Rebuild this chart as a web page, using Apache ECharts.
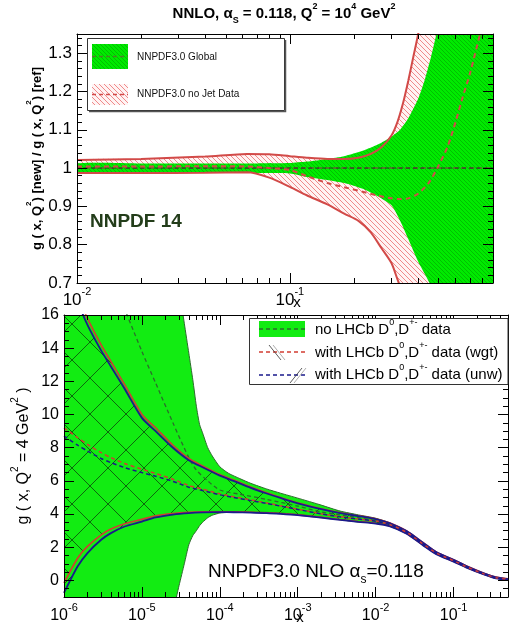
<!DOCTYPE html>
<html>
<head>
<meta charset="utf-8">
<script src="https://cdn.jsdelivr.net/npm/echarts@6/dist/echarts.min.js"></script>
<style>
  html, body { margin: 0; padding: 0; background: #fff; }
  #chart { width: 513px; height: 623px; }
</style>
</head>
<body>
<div id="chart"></div>
<script>
// ---------------- upper panel: g(x,Q^2) ratio to NNPDF3.0 global, NNLO, Q^2 = 1e4 GeV^2
const ratioXLabels = [0.01, 0.1];
const ratioYLabels = [0.7, 0.8, 0.9, 1, 1.1, 1.2, 1.3];

const globalX     = [0.01, 0.02, 0.04, 0.07, 0.1, 0.12, 0.15, 0.18, 0.22, 0.26, 0.3, 0.33, 0.36, 0.4, 0.43, 0.46, 0.49, 0.55, 0.7, 0.9];
const globalUpper = [1.012, 1.012, 1.012, 1.012, 1.013, 1.017, 1.024, 1.031, 1.045, 1.062, 1.082, 1.101, 1.13, 1.18, 1.23, 1.29, 1.355, 1.5, 1.8, 2.2];
const globalLower = [0.988, 0.988, 0.988, 0.987, 0.986, 0.977, 0.969, 0.961, 0.946, 0.926, 0.903, 0.862, 0.815, 0.757, 0.724, 0.693, 0.665, 0.6, 0.45, 0.3];
const globalCentralX = [0.01, 0.9];
const globalCentral  = [1, 1];

const noJetX     = [0.01, 0.02, 0.04, 0.063, 0.08, 0.1, 0.12, 0.15, 0.18, 0.21, 0.24, 0.27, 0.3, 0.32, 0.34, 0.36, 0.38, 0.4, 0.45, 0.6, 0.9];
const noJetUpper = [1.021, 1.024, 1.03, 1.037, 1.036, 1.031, 1.027, 1.024, 1.024, 1.027, 1.037, 1.055, 1.085, 1.12, 1.169, 1.228, 1.29, 1.348, 1.5, 1.9, 2.5];
const noJetLower = [0.987, 0.987, 0.988, 0.989, 0.975, 0.951, 0.929, 0.905, 0.881, 0.862, 0.832, 0.79, 0.752, 0.71, 0.67, 0.63, 0.6, 0.57, 0.5, 0.35, 0.2];
const noJetCentralX = [0.01, 0.02, 0.04, 0.063, 0.08, 0.1, 0.12, 0.15, 0.18, 0.22, 0.26, 0.3, 0.33, 0.36, 0.4, 0.45, 0.5, 0.55, 0.6, 0.65, 0.7, 0.78];
const noJetCentral  = [1.004, 1.004, 1.005, 1.004, 1.0, 0.995, 0.979, 0.961, 0.95, 0.938, 0.928, 0.921, 0.919, 0.921, 0.933, 0.962, 1.007, 1.055, 1.12, 1.187, 1.245, 1.347];

// ---------------- lower panel: gluon at Q^2 = 4 GeV^2, NNPDF3.0 NLO
const gluonXLabels = [1e-6, 1e-5, 1e-4, 1e-3, 1e-2, 1e-1];
const gluonYLabels = [0, 2, 4, 6, 8, 10, 12, 14, 16];

const noLhcbX     = [1e-6, 5e-6, 1.5e-5, 2.5e-5, 3e-5, 3.5e-5, 4e-5, 4.5e-5, 5e-5, 5.5e-5, 6e-5, 7e-5, 8e-5, 1e-4, 1.3e-4, 1.8e-4, 2.5e-4, 4e-4, 6e-4, 1e-3, 2e-3, 3.5e-3, 6e-3, 1e-2, 0.015, 0.025, 0.04, 0.06, 0.1, 0.15, 0.25, 0.35, 0.5];
const noLhcbUpper = [45, 35, 26, 20, 17.6, 15.5, 13.7, 12.1, 10.5, 9.4, 8.9, 8.0, 7.5, 6.85, 6.45, 6.14, 5.85, 5.51, 5.26, 4.96, 4.54, 4.18, 3.95, 3.75, 3.48, 2.98, 2.29, 1.71, 1.24, 0.84, 0.41, 0.19, 0.09];
const noLhcbLower = [-12, -8, -4, -1.8, -0.3, 1.0, 2.15, 2.7, 3.0, 3.3, 3.5, 3.78, 3.93, 4.06, 4.1, 4.12, 4.12, 4.1, 4.06, 3.98, 3.82, 3.66, 3.52, 3.45, 3.28, 2.82, 2.15, 1.59, 1.14, 0.76, 0.35, 0.13, 0.05];
const noLhcbCentralX = [5e-6, 1e-5, 1.5e-5, 2.5e-5, 4e-5, 5e-5, 7e-5, 1e-4, 1.8e-4, 4e-4, 1e-3, 2e-3, 3.5e-3, 6e-3, 1e-2, 0.015, 0.025, 0.04, 0.06, 0.1, 0.15, 0.25, 0.35, 0.5];
const noLhcbCentral  = [17.3, 13.8, 11.9, 9.5, 7.4, 6.65, 6.0, 5.45, 5.2, 4.88, 4.48, 4.13, 3.95, 3.78, 3.6, 3.38, 2.9, 2.22, 1.65, 1.19, 0.8, 0.38, 0.16, 0.07];

const lhcbX      = [1e-6, 1.5e-6, 2e-6, 3e-6, 4e-6, 6e-6, 1e-5, 1.5e-5, 2.5e-5, 4e-5, 6e-5, 1e-4, 1.5e-4, 2.5e-4, 4e-4, 6e-4, 1e-3, 2e-3, 3.5e-3, 6e-3, 1e-2, 0.015, 0.025, 0.04, 0.06, 0.1, 0.15, 0.25, 0.35, 0.5];
const wgtUpper   = [19.5, 17.2, 15.8, 14.2, 13.2, 11.8, 10.0, 9.2, 8.15, 7.35, 6.9, 6.38, 6.05, 5.63, 5.28, 5.0, 4.68, 4.32, 4.08, 3.9, 3.72, 3.47, 2.98, 2.3, 1.72, 1.25, 0.85, 0.42, 0.2, 0.09];
const wgtCentral = [9.2, 8.6, 8.2, 7.7, 7.4, 7.05, 6.7, 6.45, 6.1, 5.72, 5.5, 5.22, 5.05, 4.85, 4.67, 4.5, 4.3, 4.02, 3.84, 3.7, 3.58, 3.38, 2.9, 2.22, 1.65, 1.19, 0.8, 0.38, 0.16, 0.07];
const wgtLower   = [-0.15, 1.35, 2.05, 2.75, 3.1, 3.42, 3.68, 3.9, 4.03, 4.1, 4.13, 4.14, 4.13, 4.11, 4.08, 4.03, 3.95, 3.8, 3.67, 3.55, 3.45, 3.29, 2.83, 2.16, 1.6, 1.15, 0.77, 0.36, 0.14, 0.05];
const unwUpper   = [19.0, 16.8, 15.4, 13.85, 12.9, 11.55, 9.8, 9.0, 8.0, 7.25, 6.82, 6.32, 6.0, 5.58, 5.24, 4.97, 4.65, 4.3, 4.06, 3.88, 3.7, 3.46, 2.97, 2.29, 1.71, 1.24, 0.84, 0.41, 0.19, 0.08];
const unwCentral = [8.7, 8.15, 7.8, 7.35, 7.1, 6.8, 6.5, 6.28, 5.97, 5.62, 5.42, 5.16, 5.0, 4.81, 4.64, 4.48, 4.28, 4.01, 3.83, 3.7, 3.57, 3.37, 2.89, 2.21, 1.64, 1.18, 0.79, 0.37, 0.15, 0.06];
const unwLower   = [-0.75, 0.85, 1.65, 2.45, 2.85, 3.25, 3.55, 3.8, 3.97, 4.06, 4.1, 4.12, 4.11, 4.09, 4.06, 4.01, 3.93, 3.78, 3.65, 3.53, 3.43, 3.27, 2.81, 2.14, 1.58, 1.13, 0.75, 0.34, 0.12, 0.04];

// ---------------- minor tick positions
function logMinors(lo, hi, maxV) {
  const out = [];
  for (let d = lo; d <= hi; d++) for (let k = 2; k <= 9; k++) {
    const v = +(k * Math.pow(10, d)).toPrecision(6);
    if (v <= maxV) out.push(v);
  }
  return out;
}
const ratioXMinor = logMinors(-2, -1, 0.9);
const gluonXMinor = logMinors(-6, -1, 0.5);
const ratioYMinor = [];
for (let i = 35; i <= 67; i++) if (i % 5) ratioYMinor.push(i / 50);
const gluonYMinor = [];
for (let i = -2; i <= 32; i++) if (i % 4) gluonYMinor.push(i / 2);

// ---------------- styling helpers
const FONT = 'Liberation Sans, Arial, Helvetica, sans-serif';
const AXIS_Z = 20;

function hatch(size, bg, fg, lw, dir) {
  const c = document.createElement('canvas');
  c.width = c.height = size;
  const g = c.getContext('2d');
  if (bg) { g.fillStyle = bg; g.fillRect(0, 0, size, size); }
  g.strokeStyle = fg; g.lineWidth = lw;
  g.beginPath();
  for (const k of [-size, 0, size]) {
    if (dir === '\\') { g.moveTo(k, 0); g.lineTo(k + size, size); }
    else { g.moveTo(k, size); g.lineTo(k + size, 0); }
  }
  g.stroke();
  return { image: c, repeat: 'repeat' };
}
const globalFill = hatch(4, '#00ea00', '#00c000', 1, '\\');
const noJetFill  = hatch(5, '#fff3f3', '#ef8a8a', 1, '\\');
const noLhcbFill = '#12ec12';
const wgtHatch   = hatch(36, null, 'rgba(10,40,10,0.85)', 0.8, '\\');
const unwHatch   = hatch(36, null, 'rgba(10,40,10,0.85)', 0.8, '/');

const RED = '#d23c32', RED_TOP = '#d24a48', NAVY = '#1a1a8c', DKGREEN = '#2c6c2c';

function pairs(xs, ys) { return xs.map((x, i) => [x, ys[i]]); }

function band(xs, lo, hi, fill, stroke, xi, yi, z) {
  return {
    type: 'custom', xAxisIndex: xi, yAxisIndex: yi, clip: true, z: z, silent: true,
    data: xs.map((x, i) => [x, lo[i], hi[i]]),
    encode: { x: 0, y: [1, 2] },
    renderItem: function (params, api) {
      if (params.dataIndex !== 0) return;
      const pts = [];
      for (let i = 0; i < xs.length; i++) pts.push(api.coord([xs[i], hi[i]]));
      for (let i = xs.length - 1; i >= 0; i--) pts.push(api.coord([xs[i], lo[i]]));
      return {
        type: 'polygon',
        shape: { points: pts, smooth: 0.2 },
        style: { fill: fill, stroke: stroke || null, lineWidth: stroke ? 1 : 0 }
      };
    }
  };
}

function curve(xs, ys, color, width, dash, xi, yi, z) {
  return {
    type: 'line', xAxisIndex: xi, yAxisIndex: yi, z: z, silent: true,
    data: pairs(xs, ys), symbol: 'none', smooth: 0.25, clip: true,
    lineStyle: { color: color, width: width, type: dash || 'solid' }
  };
}

function powLabel(v) {
  const e = Math.round(Math.log10(v));
  return '{b|10}{s|' + e + '}';
}
function powRich(size) {
  return {
    b: { fontSize: size, lineHeight: size + 6, verticalAlign: 'bottom', fontFamily: FONT, color: '#000' },
    s: { fontSize: Math.round(size * 0.66), lineHeight: 12, verticalAlign: 'top', fontFamily: FONT, color: '#000' }
  };
}

function xAxisPair(grid, min, max, labels, minors, pos, withLabels, labelSize, name, namePad, nameGap, margin) {
  const major = {
    type: 'log', logBase: 10, gridIndex: grid, min: min, max: max, position: pos, z: AXIS_Z,
    axisLine: { show: true, onZero: false, lineStyle: { color: '#000', width: 1 } },
    axisTick: { show: true, inside: true, length: 10, customValues: labels, lineStyle: { color: '#000' } },
    axisLabel: withLabels
      ? { show: true, customValues: labels, formatter: powLabel, rich: powRich(labelSize), margin: margin }
      : { show: false },
    splitLine: { show: false }, minorTick: { show: false }
  };
  if (name) {
    major.name = name;
    major.nameLocation = 'middle';
    major.nameGap = nameGap;
    major.nameMoveOverlap = false;
    major.nameTextStyle = { fontSize: 15, fontFamily: FONT, color: '#000', padding: [0, 0, 0, namePad] };
  }
  const minor = {
    type: 'log', logBase: 10, gridIndex: grid, min: min, max: max, position: pos, z: AXIS_Z,
    axisLine: { show: false, onZero: false },
    axisTick: { show: true, inside: true, length: 5, customValues: minors, lineStyle: { color: '#000' } },
    axisLabel: { show: false }, splitLine: { show: false }
  };
  return [major, minor];
}

function yAxisPair(grid, min, max, labels, minors, pos, withLabels, labelSize, name, nameGap, nameSize, nameWeight) {
  const major = {
    type: 'value', gridIndex: grid, min: min, max: max, position: pos, z: AXIS_Z,
    axisLine: { show: true, onZero: false, lineStyle: { color: '#000', width: 1 } },
    axisTick: { show: true, inside: true, length: 10, customValues: labels, lineStyle: { color: '#000' } },
    axisLabel: withLabels
      ? { show: true, customValues: labels, fontSize: labelSize, fontFamily: FONT, color: '#000', margin: 5 }
      : { show: false },
    splitLine: { show: false }
  };
  if (name) {
    major.name = name;
    major.nameLocation = 'middle';
    major.nameRotate = 90;
    major.nameGap = nameGap;
    major.nameMoveOverlap = false;
    major.nameTextStyle = {
      fontSize: nameSize, fontFamily: FONT, color: '#000', fontWeight: nameWeight,
      rich: {
        p: { fontSize: Math.round(nameSize * 0.65), verticalAlign: 'top', lineHeight: 10, fontFamily: FONT, fontWeight: nameWeight },
        t: { fontSize: nameSize, verticalAlign: 'bottom', lineHeight: nameSize + 6, fontFamily: FONT, fontWeight: nameWeight }
      }
    };
  }
  const minor = {
    type: 'value', gridIndex: grid, min: min, max: max, position: pos, z: AXIS_Z,
    axisLine: { show: false, onZero: false },
    axisTick: { show: true, inside: true, length: 5, customValues: minors, lineStyle: { color: '#000' } },
    axisLabel: { show: false }, splitLine: { show: false }
  };
  return [major, minor];
}

const xAxes = [].concat(
  xAxisPair(0, 0.01, 0.9, ratioXLabels, ratioXMinor, 'bottom', true, 17, 'x', 24, 12, 3), // 0,1
  xAxisPair(0, 0.01, 0.9, ratioXLabels, ratioXMinor, 'top', false),                       // 2,3
  xAxisPair(1, 1e-6, 0.5, gluonXLabels, gluonXMinor, 'bottom', true, 16, 'x', 28, 13, 5), // 4,5
  xAxisPair(1, 1e-6, 0.5, gluonXLabels, gluonXMinor, 'top', false)                        // 6,7
);
const yAxes = [].concat(
  yAxisPair(0, 0.7, 1.35, ratioYLabels, ratioYMinor, 'left', true, 17,
    '{t|g ( x, Q}{p|2}{t|) [new] / g ( x, Q}{p|2}{t|) [ref]}', 33, 13, 'bold'),    // 0,1
  yAxisPair(0, 0.7, 1.35, ratioYLabels, ratioYMinor, 'right', false),              // 2,3
  yAxisPair(1, -1, 16, gluonYLabels, gluonYMinor, 'left', true, 16,
    '{t|g ( x, Q}{p|2}{t| = 4 GeV}{p|2}{t| )}', 32, 16, 'normal'),                  // 4,5
  yAxisPair(1, -1, 16, gluonYLabels, gluonYMinor, 'right', false)                  // 6,7
);

const series = [
  // upper panel
  band(noJetX, noJetLower, noJetUpper, noJetFill, null, 0, 0, 1),
  band(globalX, globalLower, globalUpper, globalFill, null, 0, 0, 2),
  curve(noJetX, noJetUpper, RED_TOP, 2, 'solid', 0, 0, 3),
  curve(noJetX, noJetLower, RED_TOP, 2, 'solid', 0, 0, 3),
  curve(globalCentralX, globalCentral, '#4f7f2a', 2, [5, 3], 0, 0, 3),
  curve(globalCentralX, globalCentral, '#222', 0.8, [4, 3], 0, 0, 4),
  curve(noJetCentralX, noJetCentral, RED_TOP, 2, [5, 4], 0, 0, 4),
  // lower panel
  band(noLhcbX, noLhcbLower, noLhcbUpper, noLhcbFill, DKGREEN, 4, 4, 1),
  band(lhcbX, wgtLower, wgtUpper, wgtHatch, null, 4, 4, 2),
  band(lhcbX, unwLower, unwUpper, unwHatch, null, 4, 4, 2),
  curve(noLhcbCentralX, noLhcbCentral, DKGREEN, 1.3, [4, 3], 4, 4, 3),
  curve(lhcbX, wgtUpper, RED, 1.6, 'solid', 4, 4, 3),
  curve(lhcbX, wgtLower, RED, 1.6, 'solid', 4, 4, 3),
  curve(lhcbX, unwUpper, NAVY, 1.8, 'solid', 4, 4, 4),
  curve(lhcbX, unwLower, NAVY, 1.8, 'solid', 4, 4, 4),
  curve(lhcbX, wgtCentral, RED, 1.5, [4, 3], 4, 4, 4),
  curve(lhcbX, unwCentral, NAVY, 1.5, [4, 3], 4, 4, 4)
];

const supRich = (size, weight) => ({
  b: { fontSize: size, fontFamily: FONT, fontWeight: weight, lineHeight: size + 8, verticalAlign: 'middle', fill: '#000' },
  p: { fontSize: Math.round(size * 0.62), fontFamily: FONT, fontWeight: weight, lineHeight: 10, verticalAlign: 'top', fill: '#000' },
  d: { fontSize: Math.round(size * 0.62), fontFamily: FONT, fontWeight: weight, lineHeight: 10, verticalAlign: 'bottom', fill: '#000' }
});

const graphics = [
  // header
  { type: 'text', x: 284, y: 14, z: 100,
    style: { text: '{b|NNLO, α}{d|S}{b| = 0.118, Q}{p|2}{b| = 10}{p|4}{b| GeV}{p|2}',
             rich: supRich(15, 'bold'), align: 'center', verticalAlign: 'middle' } },
  // upper legend
  { type: 'rect', z: 100, shape: { x: 87.5, y: 38.5, width: 197, height: 72 }, style: { fill: '#fff', stroke: '#333', lineWidth: 1 } },
  { type: 'polyline', z: 100, shape: { points: [[285.5, 40], [285.5, 111.5], [89, 111.5]] }, style: { stroke: '#555', lineWidth: 1.5, fill: null } },
  { type: 'rect', z: 101, shape: { x: 92, y: 44, width: 36, height: 25 }, style: { fill: globalFill } },
  { type: 'line', z: 102, shape: { x1: 92, y1: 56.5, x2: 128, y2: 56.5 }, style: { stroke: '#4f7f2a', lineWidth: 1.5, lineDash: [4, 3] } },
  { type: 'rect', z: 101, shape: { x: 92, y: 84, width: 36, height: 21 }, style: { fill: noJetFill } },
  { type: 'line', z: 102, shape: { x1: 92, y1: 94.5, x2: 128, y2: 94.5 }, style: { stroke: RED_TOP, lineWidth: 1.5, lineDash: [4, 3] } },
  { type: 'text', z: 102, x: 137, y: 57, style: { text: 'NNPDF3.0 Global', font: '10px ' + FONT, fill: '#111', verticalAlign: 'middle' } },
  { type: 'text', z: 102, x: 137, y: 94, style: { text: 'NNPDF3.0 no Jet Data', font: '10px ' + FONT, fill: '#111', verticalAlign: 'middle' } },
  // upper panel tag
  { type: 'text', z: 100, x: 90, y: 222, style: { text: 'NNPDF 14', font: 'bold 19px ' + FONT, fill: '#233d1a', verticalAlign: 'middle' } },
  // lower legend
  { type: 'rect', z: 100, shape: { x: 249.5, y: 318.5, width: 258.5, height: 66 }, style: { fill: '#fff', stroke: '#333', lineWidth: 1 } },
  { type: 'rect', z: 101, shape: { x: 259, y: 321, width: 46, height: 16 }, style: { fill: noLhcbFill } },
  { type: 'line', z: 102, shape: { x1: 259, y1: 329, x2: 305, y2: 329 }, style: { stroke: DKGREEN, lineWidth: 1.3, lineDash: [4, 3] } },
  { type: 'line', z: 102, shape: { x1: 259, y1: 352, x2: 305, y2: 352 }, style: { stroke: RED, lineWidth: 1.5, lineDash: [4, 3] } },
  { type: 'line', z: 102, shape: { x1: 269, y1: 345, x2: 281, y2: 360 }, style: { stroke: '#333', lineWidth: 0.8 } },
  { type: 'line', z: 102, shape: { x1: 273, y1: 345, x2: 285, y2: 360 }, style: { stroke: '#999', lineWidth: 0.8 } },
  { type: 'line', z: 102, shape: { x1: 259, y1: 375, x2: 305, y2: 375 }, style: { stroke: NAVY, lineWidth: 1.5, lineDash: [4, 3] } },
  { type: 'line', z: 102, shape: { x1: 290, y1: 383, x2: 302, y2: 368 }, style: { stroke: '#333', lineWidth: 0.8 } },
  { type: 'line', z: 102, shape: { x1: 294, y1: 383, x2: 306, y2: 368 }, style: { stroke: '#999', lineWidth: 0.8 } },
  { type: 'text', z: 102, x: 315, y: 330, style: { text: '{b|no LHCb D}{p|0}{b|,D}{p|+-}{b| data}', rich: supRich(15, 'normal'), verticalAlign: 'middle' } },
  { type: 'text', z: 102, x: 315, y: 353, style: { text: '{b|with LHCb D}{p|0}{b|,D}{p|+-}{b| data (wgt)}', rich: supRich(15, 'normal'), verticalAlign: 'middle' } },
  { type: 'text', z: 102, x: 315, y: 375, style: { text: '{b|with LHCb D}{p|0}{b|,D}{p|+-}{b| data (unw)}', rich: supRich(15, 'normal'), verticalAlign: 'middle' } },
  // lower panel tag
  { type: 'text', z: 100, x: 208, y: 572,
    style: { text: '{b|NNPDF3.0 NLO α}{d|s}{b|=0.118}', rich: supRich(19, 'normal'), verticalAlign: 'middle' } }
];

const chart = echarts.init(document.getElementById('chart'), null, { renderer: 'canvas' });
chart.setOption({
  animation: false,
  backgroundColor: '#fff',
  textStyle: { fontFamily: FONT },
  grid: [
    { left: 77, top: 34, width: 416, height: 249, containLabel: false, outerBoundsMode: 'none' },
    { left: 64, top: 315, width: 444, height: 282, containLabel: false, outerBoundsMode: 'none' }
  ],
  xAxis: xAxes,
  yAxis: yAxes,
  series: series,
  graphic: graphics
});
</script>
</body>
</html>
